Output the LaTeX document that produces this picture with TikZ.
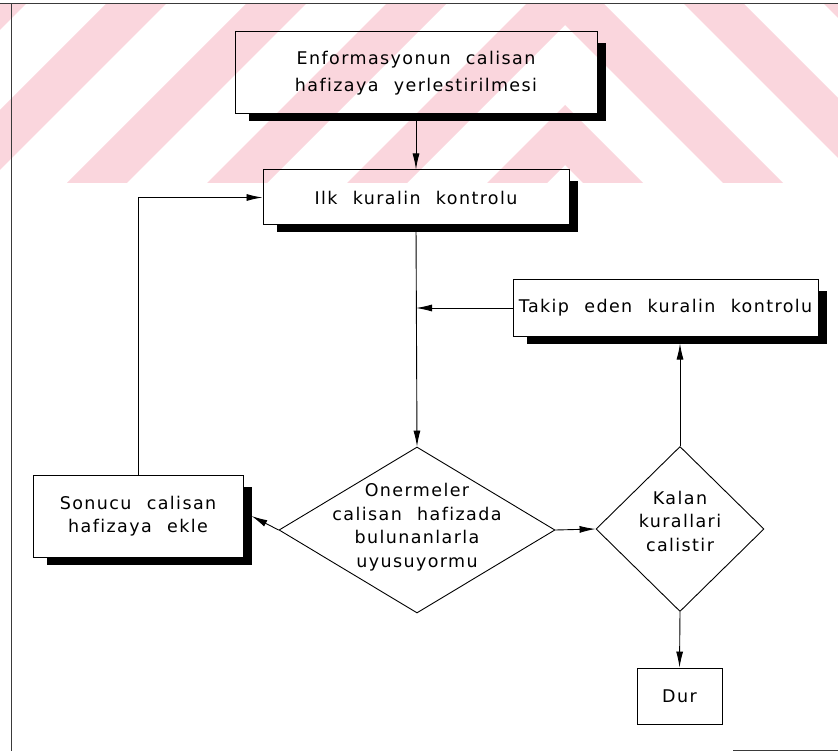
\documentclass[tikz,border=0pt]{standalone}
\usepackage{fontspec}
\setmainfont{DejaVu Sans}[LetterSpace=8, WordSpace=2.2, Ligatures={NoCommon}]
\usetikzlibrary{arrows.meta,shapes.geometric,calc}
\pgfdeclarelayer{bg}
\pgfsetlayers{bg,main}
\definecolor{wmpink}{HTML}{FAD6DD}
\definecolor{framegray}{HTML}{3A3A3A}

\begin{document}
\begin{tikzpicture}[x=1pt,y=-1pt,
  every node/.style={font=\fontsize{17.5}{23.5}\selectfont, align=center, inner sep=0pt},
  box/.style={draw, line width=1pt, rectangle},
  dia/.style={draw, line width=0.9pt, diamond, inner sep=0pt},
  link/.style={line width=0.9pt},
  arr/.style={link, -{Latex[length=16pt,width=7pt]}},
  shade/.style={fill=black},
  ]
\useasboundingbox (0,0) rectangle (838,751);

% ---- process boxes ----
\node[box, minimum width=362pt, minimum height=82pt] (b1) at (416,73)
  {Enformasyonun calisan\\[3pt]hafizaya yerlestirilmesi};
\node[box, minimum width=306pt, minimum height=55pt] (b2) at (416,197.5)
  {Ilk kuralin kontrolu};
\node[box, minimum width=305pt, minimum height=56pt] (b3) at (665.5,308)
  {Takip eden kuralin kontrolu};
\node[box, minimum width=210pt, minimum height=82pt] (b4) at (138,516)
  {Sonucu calisan\\hafizaya ekle};
\node[box, line width=0.9pt, minimum width=85pt, minimum height=56pt] (dur) at (679.5,696)
  {Dur};

% ---- decisions ----
\node[dia, minimum width=276pt, minimum height=166pt,
  label={[name=d1t, yshift=3pt]center:{Onermeler\\calisan hafizada\\bulunanlarla\\uyusuyormu}}]
  (d1) at (417,530) {};
\node[dia, minimum width=168pt, minimum height=165pt,
  label={[name=d2t, yshift=8pt]center:{Kalan\\kurallari\\calistir}}]
  (d2) at (680,529) {};

% ---- connectors ----
\coordinate (j) at (b2.south |- b3.west);
\draw[arr] (b1.south) -- (b2.north);
\draw[arr] (b2.south) -- (d1.north);
\draw[arr] (b3.west) -- (j);
\draw[arr] (d1.west) -- ($(b4.east)+(8,0)$);
\draw[arr] (d1.east) -- (d2.west);
\draw[arr] (d2.north) -- ($(d2.north |- b3.south)+(0,7)$);
\draw[arr] (d2.south) -- (dur.north);
\draw[arr] (b4.north) |- (b2.west);

% ---- watermark, page frame and drop shadows ----
\begin{pgfonlayer}{bg}
  \begin{scope}
    \clip (0,5) rectangle (565,183);
    \foreach \c in {-30,110,250,390,530,670}
      \fill[wmpink] (\c,0) -- (\c+60,0) -- (\c+60-183,183) -- (\c-183,183) -- cycle;
  \end{scope}
  \begin{scope}
    \clip (565,5) rectangle (838,183);
    \foreach \c in {400,540,680,820}
      \fill[wmpink] (\c,0) -- (\c+60,0) -- (\c+60+183,183) -- (\c+183,183) -- cycle;
  \end{scope}
  \draw[framegray, line width=1pt] (0,4) -- (838,4);
  \draw[framegray, line width=0.8pt] (11,4) -- (11,751);
  \draw[framegray, line width=0.8pt] (733,750) -- (838,750);
  \foreach \b in {b1,b2,b3,b4} {
    \fill[shade] ($(\b.south west)+(14,0)$) rectangle ($(\b.south east)+(8,7)$);
    \fill[shade] ($(\b.north east)+(0,12)$) rectangle ($(\b.south east)+(8,7)$);
  }
\end{pgfonlayer}
\end{tikzpicture}
\end{document}
